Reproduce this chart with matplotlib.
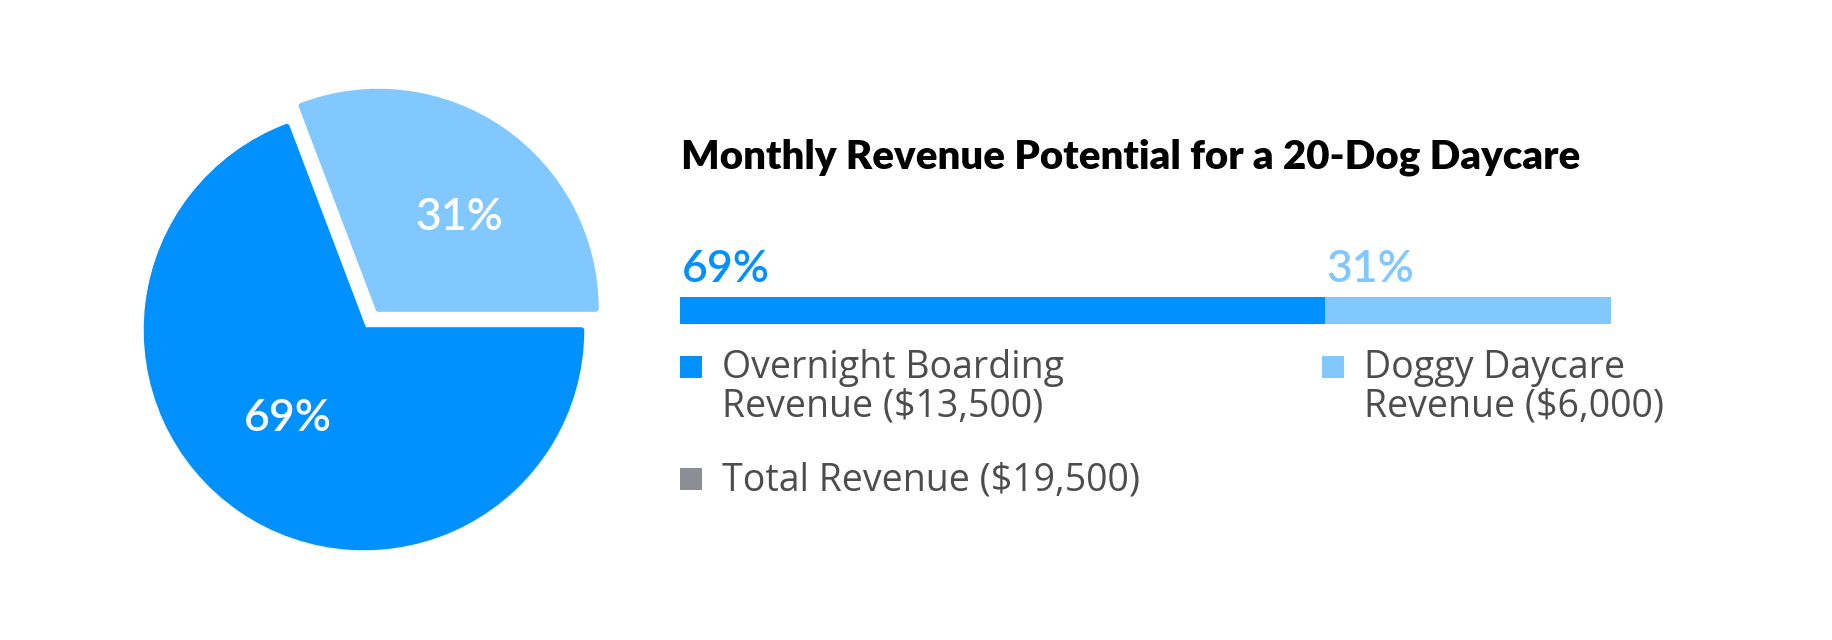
import matplotlib
matplotlib.use("Agg")
import matplotlib.pyplot as plt
from matplotlib.patches import Rectangle

# donnees
segments = ["Overnight Boarding", "Doggy Daycare"]
revenus = [13500, 6000]
total = 19500
legende = ["Overnight Boarding\nRevenue ($13,500)", "Doggy Daycare\nRevenue ($6,000)", "Total Revenue ($19,500)"]
couleurs = ["#0091FF", "#80C8FF", "#8C8E96"]
titre = "Monthly Revenue Potential for a 20-Dog Daycare"

W, H = 1832, 640
plt.rcParams['font.family'] = ['Lato', 'DejaVu Sans']

fig = plt.figure(figsize=(W / 100, H / 100), dpi=100)
fig.patch.set_facecolor("white")

def fx(x):
    return x / W

def fy(y):
    return 1 - y / H

# camembert (part claire d'abord, sens trigo depuis 0 deg)
R = 217.5
ax_pie = fig.add_axes([fx(364 - 250), (310 - 250) / H, 500 / W, 500 / H])
valeurs = [revenus[1], revenus[0]]
wedges, _, autotexts = ax_pie.pie(
    valeurs, colors=[couleurs[1], couleurs[0]], startangle=0, counterclock=True,
    explode=[0.117, 0], radius=1, autopct='%.0f%%', pctdistance=0.6,
    wedgeprops=dict(linewidth=4, joinstyle='round'),
    textprops=dict(color="white", fontsize=32, fontweight="semibold"))
for w in wedges:
    w.set_edgecolor(w.get_facecolor())
autotexts[0].set_position((0.437, 0.515))
autotexts[1].set_position((-0.349, -0.405))
ax_pie.set_xlim(-250 / R, 250 / R)
ax_pie.set_ylim(-250 / R, 250 / R)
ax_pie.axis('off')

# titre
fig.text(fx(681), fy(168), titre, fontsize=29, fontweight="heavy", color="black", va="baseline")

# barre empilee
ax_bar = fig.add_axes([fx(680), fy(324), 931 / W, 27 / H])
parts = [r / total * 100 for r in revenus]
gauche = 0
for p, c in zip(parts, couleurs[:2]):
    ax_bar.barh([0], [p], left=gauche, height=1.0, color=c, linewidth=0)
    ax_bar.annotate("%.0f%%" % p, xy=(gauche, 1), xycoords=('data', 'axes fraction'),
                    xytext=(1, 11), textcoords='offset points', fontsize=32,
                    fontweight="semibold", color=c, va="baseline", ha="left")
    gauche += p
ax_bar.set_xlim(0, 100)
ax_bar.set_ylim(-0.5, 0.5)
ax_bar.axis('off')

# legende
positions = [(680, 378), (1322, 378), (680, 490)]
for (x, yb), lab, c in zip(positions, legende, couleurs):
    fig.add_artist(Rectangle((fx(x), fy(yb)), 22 / W, 22 / H, transform=fig.transFigure,
                             facecolor=c, edgecolor="none"))
    for i, ligne in enumerate(lab.split("\n")):
        fig.text(fx(x + 42), fy(yb + 39 * i), ligne, fontsize=27, color="#4D4D4D",
                 va="baseline", family=['Open Sans', 'DejaVu Sans'])

fig.savefig("out.png", dpi=100, facecolor="white")
